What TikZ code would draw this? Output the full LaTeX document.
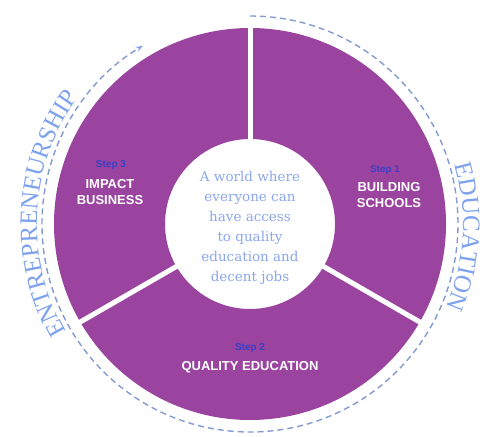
\documentclass[tikz,border=0pt]{standalone}
\usepackage{fontspec}
\setmainfont{Liberation Serif}
\newfontfamily\labelfont{Liberation Sans}
\newfontfamily\centerfont{DejaVu Serif}
\usetikzlibrary{calc,decorations.text,arrows.meta}
\definecolor{ringpurple}{HTML}{9A44A0}
\definecolor{arcblue}{HTML}{7FA2EE}
\definecolor{dashgrey}{HTML}{849AD2}
\definecolor{stepblue}{HTML}{3B3FC4}
\definecolor{centerblue}{HTML}{8AA6EC}
\tikzset{
  steplabel/.style={font=\labelfont\bfseries\fontsize{10}{12}\selectfont, text=stepblue, inner sep=0pt},
  titlelabel/.style={font=\labelfont\bfseries\fontsize{13}{16.5}\selectfont, text=white, align=center, inner sep=0pt},
  gapline/.style={white, line width=5pt},
  dashline/.style={dashgrey, line width=1.4pt, dash pattern=on 6pt off 4pt},
  arctext/.style={decorate, decoration={text along path, text align=center, text color=arcblue}}
}
\begin{document}
\begin{tikzpicture}[x=1pt,y=1pt]
\useasboundingbox (0,0) rectangle (486,436);
\coordinate (C) at (250,212);
% ring
\fill[ringpurple, even odd rule] (C) circle[radius=196pt] (C) circle[radius=85pt];
\draw[gapline] ($(C)+(90:80pt)$) -- ($(C)+(90:200pt)$);
\draw[gapline] ($(C)+(210:80pt)$) -- ($(C)+(210:200pt)$);
\draw[gapline] ($(C)+(330:80pt)$) -- ($(C)+(330:200pt)$);
% dashed circle
\draw[dashline, -{Stealth[length=7pt,width=5pt,color=arcblue]}] ($(C)+(90:208pt)$) arc[start angle=90, end angle=-239, radius=208pt];
% arc texts
\path[arctext, decoration={text={|\fontsize{25}{25}\selectfont|ENTREPRENEURSHIP}}] ($(C)+(217:213pt)$) arc[start angle=217, end angle=137, radius=213pt];
\path[arctext, decoration={text={|\fontsize{25}{25}\selectfont|EDUCATION}}] ($(C)+(22:213pt)$) arc[start angle=22, end angle=-29, radius=213pt];
% center text
\node[font=\centerfont\fontsize{13.5}{20}\selectfont, text=centerblue, align=center, inner sep=0pt] (center) at (250,208)
  {A world where\\everyone can\\have access\\to quality\\education and\\decent jobs};
% segment labels
\node[steplabel] (step3) at (111,271) {Step 3};
\node[titlelabel] (title3) at (110,244) {IMPACT\\BUSINESS};
\node[steplabel] (step1) at (385,266) {Step 1};
\node[titlelabel] (title1) at (389,241) {BUILDING\\SCHOOLS};
\node[steplabel] (step2) at (250,88) {Step 2};
\node[titlelabel] (title2) at (250,69) {QUALITY EDUCATION};
\end{tikzpicture}
\end{document}
